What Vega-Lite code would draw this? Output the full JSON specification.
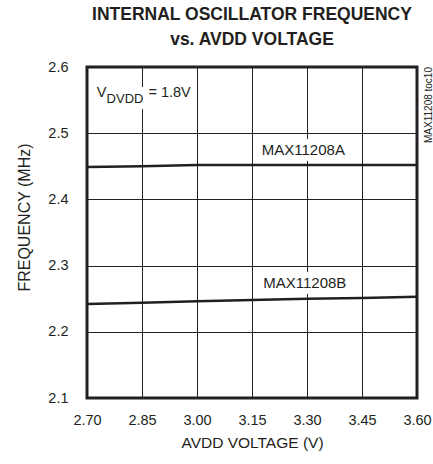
{
  "$schema": "https://vega.github.io/schema/vega-lite/v6.json",
  "width": 330,
  "height": 331,
  "autosize": {"type": "none"},
  "padding": {"left": 87, "top": 67, "right": 16, "bottom": 66},
  "background": "white",
  "title": {
    "text": ["INTERNAL OSCILLATOR FREQUENCY", "vs. AVDD VOLTAGE"],
    "font": "Liberation Sans",
    "fontSize": 17.5,
    "fontWeight": "bold",
    "color": "#231f20",
    "lineHeight": 25,
    "anchor": "middle",
    "offset": 11
  },
  "config": {
    "view": {"stroke": "#231f20", "strokeWidth": 3},
    "font": "Liberation Sans",
    "axis": {
      "grid": true,
      "gridColor": "#231f20",
      "gridWidth": 1,
      "gridOpacity": 1,
      "domain": false,
      "ticks": false,
      "tickSize": 0,
      "labelFlush": false,
      "labelOverlap": false,
      "labelFont": "Liberation Sans",
      "labelFontSize": 14.5,
      "labelColor": "#231f20",
      "titleFont": "Liberation Sans",
      "titleFontSize": 15.5,
      "titleFontWeight": "normal",
      "titleColor": "#231f20"
    }
  },
  "datasets": {
    "curves": [
      {"v": 2.70, "f": 2.449, "part": "MAX11208A"},
      {"v": 2.85, "f": 2.450, "part": "MAX11208A"},
      {"v": 3.00, "f": 2.452, "part": "MAX11208A"},
      {"v": 3.15, "f": 2.452, "part": "MAX11208A"},
      {"v": 3.30, "f": 2.452, "part": "MAX11208A"},
      {"v": 3.45, "f": 2.452, "part": "MAX11208A"},
      {"v": 3.60, "f": 2.452, "part": "MAX11208A"},
      {"v": 2.70, "f": 2.242, "part": "MAX11208B"},
      {"v": 2.85, "f": 2.244, "part": "MAX11208B"},
      {"v": 3.00, "f": 2.246, "part": "MAX11208B"},
      {"v": 3.15, "f": 2.248, "part": "MAX11208B"},
      {"v": 3.30, "f": 2.250, "part": "MAX11208B"},
      {"v": 3.45, "f": 2.251, "part": "MAX11208B"},
      {"v": 3.60, "f": 2.253, "part": "MAX11208B"}
    ],
    "labels": [
      {"v": 3.290, "f": 2.467, "text": "MAX11208A"},
      {"v": 3.294, "f": 2.266, "text": "MAX11208B"}
    ],
    "cond": [
      {"v": 2.7265, "f": 2.5551, "text": "V", "kind": "main"},
      {"v": 2.7535, "f": 2.5452, "text": "DVDD", "kind": "sub"},
      {"v": 2.8674, "f": 2.5551, "text": "= 1.8V", "kind": "main"}
    ],
    "tag": [
      {"v": 3.60, "f": 2.6, "text": "MAX11208 toc10"}
    ]
  },
  "layer": [
    {
      "data": {"name": "curves"},
      "mark": {"type": "line", "color": "#231f20", "strokeWidth": 2.5},
      "encoding": {
        "x": {
          "field": "v", "type": "quantitative",
          "scale": {"domain": [2.7, 3.6], "nice": false, "zero": false},
          "axis": {
            "values": [2.7, 2.85, 3.0, 3.15, 3.3, 3.45, 3.6],
            "format": ".2f",
            "title": "AVDD VOLTAGE (V)",
            "labelPadding": 15,
            "titlePadding": 9
          }
        },
        "y": {
          "field": "f", "type": "quantitative",
          "scale": {"domain": [2.1, 2.6], "nice": false, "zero": false},
          "axis": {
            "values": [2.1, 2.2, 2.3, 2.4, 2.5, 2.6],
            "format": ".1f",
            "title": "FREQUENCY (MHz)",
            "titleFontSize": 16,
            "labelPadding": 19,
            "titlePadding": 15,
            "titleY": 150
          }
        },
        "detail": {"field": "part"}
      }
    },
    {
      "data": {"name": "labels"},
      "mark": {"type": "text", "fontSize": 15, "align": "center", "baseline": "alphabetic", "stroke": "white", "strokeWidth": 12, "strokeJoin": "round", "fill": "white"},
      "encoding": {
        "x": {"field": "v", "type": "quantitative"},
        "y": {"field": "f", "type": "quantitative"},
        "text": {"field": "text"}
      }
    },
    {
      "data": {"name": "labels"},
      "mark": {"type": "text", "fontSize": 15, "align": "center", "baseline": "alphabetic", "color": "#231f20"},
      "encoding": {
        "x": {"field": "v", "type": "quantitative"},
        "y": {"field": "f", "type": "quantitative"},
        "text": {"field": "text"}
      }
    },
    {
      "data": {"name": "cond"},
      "mark": {"type": "text", "fontSize": 14.5, "align": "left", "baseline": "alphabetic", "stroke": "white", "strokeWidth": 12, "strokeJoin": "round", "fill": "white"},
      "encoding": {
        "x": {"field": "v", "type": "quantitative"},
        "y": {"field": "f", "type": "quantitative"},
        "text": {"field": "text"}
      }
    },
    {
      "data": {"name": "cond"},
      "transform": [{"filter": "datum.kind === 'main'"}],
      "mark": {"type": "text", "fontSize": 14.5, "align": "left", "baseline": "alphabetic", "color": "#231f20"},
      "encoding": {
        "x": {"field": "v", "type": "quantitative"},
        "y": {"field": "f", "type": "quantitative"},
        "text": {"field": "text"}
      }
    },
    {
      "data": {"name": "cond"},
      "transform": [{"filter": "datum.kind === 'sub'"}],
      "mark": {"type": "text", "fontSize": 13, "align": "left", "baseline": "alphabetic", "color": "#231f20"},
      "encoding": {
        "x": {"field": "v", "type": "quantitative"},
        "y": {"field": "f", "type": "quantitative"},
        "text": {"field": "text"}
      }
    },
    {
      "data": {"name": "tag"},
      "mark": {"type": "text", "fontSize": 10, "angle": 270, "align": "right", "baseline": "middle", "dy": 12, "color": "#231f20"},
      "encoding": {
        "x": {"field": "v", "type": "quantitative"},
        "y": {"field": "f", "type": "quantitative"},
        "text": {"field": "text"}
      }
    }
  ]
}
